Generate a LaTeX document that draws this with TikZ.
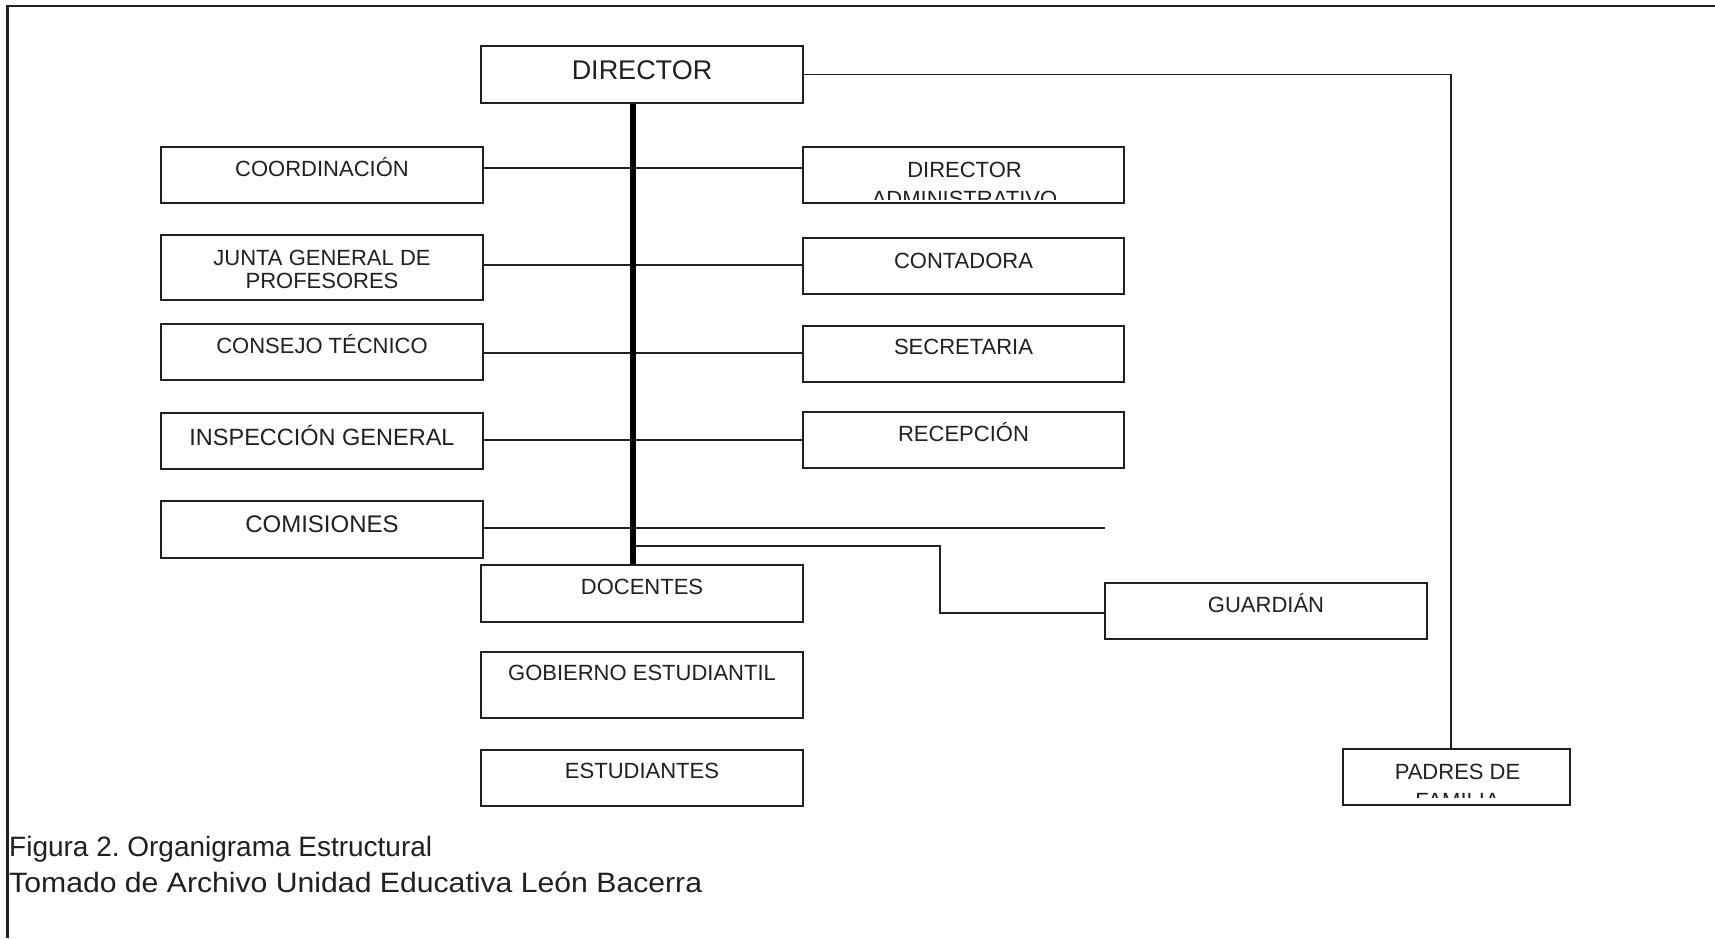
\documentclass[tikz,border=0pt]{standalone}
\usepackage{fontspec}
\usepackage{graphicx}
\setmainfont{Liberation Sans}
\frenchspacing
\definecolor{ink}{RGB}{35,31,32}
\newcommand{\bxt}[4]{\parbox[t][#1pt][t]{#2pt}{\centering\rule{0pt}{#3pt}#4}}
\begin{document}
\begin{tikzpicture}[x=1pt,y=-1pt,
  box/.style={draw=ink, line width=2pt, inner sep=0pt, anchor=north west, text=ink,
              font=\fontsize{22}{23}\selectfont},
  conn/.style={draw=ink, line width=1.6pt},
  spineline/.style={draw=black, line width=5.2pt},
  frameline/.style={draw=ink, line width=2.2pt}]
\useasboundingbox (0,0) rectangle (1715,938);
\fill[white] (0,0) rectangle (1715,938);
% frame
\draw[frameline] (7.5,938) -- (7.5,6) -- (1715,6);

% top
\node[box, font=\fontsize{27}{30}\selectfont] (director) at (480,45) {\bxt{57}{322}{33}{DIRECTOR}};

% left column
\node[box] (coord) at (160,146) {\bxt{56}{322}{29}{COORDINACIÓN}};
\node[box] (junta) at (160,234) {\bxt{65}{322}{30}{JUNTA GENERAL DE\\PROFESORES}};
\node[box] (consejo) at (160,323) {\bxt{56}{322}{29}{CONSEJO TÉCNICO}};
\node[box, font=\fontsize{23.5}{25}\selectfont] (insp) at (160,412) {\bxt{56}{322}{32}{INSPECCIÓN GENERAL}};
\node[box, font=\fontsize{24}{26}\selectfont] (com) at (160,500) {\bxt{57}{322}{31}{COMISIONES}};

% right column
\node[box, minimum width=321pt, minimum height=56pt,
  path picture={
    \clip ([yshift=4pt]path picture bounding box.south west) rectangle (path picture bounding box.north east);
    \node[anchor=north west, inner sep=0pt, text=ink, font=\fontsize{22}{29}\selectfont] (diradmintxt)
      at (path picture bounding box.north west) {\parbox[t]{321pt}{\centering\rule{0pt}{29pt}DIRECTOR\\ADMINISTRATIVO}};
  }] (diradmin) at (802,146) {};
\node[box] (contadora) at (802,237) {\bxt{56}{321}{30}{CONTADORA}};
\node[box] (secretaria) at (802,325) {\bxt{56}{321}{28}{SECRETARIA}};
\node[box] (recepcion) at (802,411) {\bxt{56}{321}{29}{RECEPCIÓN}};

% bottom middle
\node[box] (docentes) at (480,564) {\bxt{57}{322}{29}{DOCENTES}};
\node[box] (gobierno) at (480,651) {\bxt{66}{322}{28}{GOBIERNO ESTUDIANTIL}};
\node[box] (estudiantes) at (480,749) {\bxt{56}{322}{28}{ESTUDIANTES}};

% right bottom
\node[box] (guardian) at (1104,582) {\bxt{56}{322}{29}{GUARDIÁN}};
\node[box, minimum width=227pt, minimum height=56pt,
  path picture={
    \clip ([yshift=8pt]path picture bounding box.south west) rectangle (path picture bounding box.north east);
    \node[anchor=north west, inner sep=0pt, text=ink, font=\fontsize{22}{29}\selectfont] (padrestxt)
      at (path picture bounding box.north west) {\parbox[t]{227pt}{\centering\rule{0pt}{29pt}PADRES DE\\FAMILIA}};
  }] (padres) at (1342,748) {};

% connectors
\coordinate (spx) at (633,0);
\draw[conn] (coord.east |- 0,168) -- (diradmin.west |- 0,168);
\draw[conn] (junta.east |- 0,265) -- (contadora.west |- 0,265);
\draw[conn] (consejo.east |- 0,353) -- (secretaria.west |- 0,353);
\draw[conn] (insp.east |- 0,440) -- (recepcion.west |- 0,440);
\coordinate (comend) at (1105,528);
\draw[conn] (com.east |- comend) -- (comend);
\coordinate (gA) at (633,546);
\coordinate (gB) at (940,546);
\coordinate (gC) at (940,613);
\draw[conn] (gA) -- (gB) -- (gC) -- (guardian.west |- gC);
\coordinate (pA) at (1451,0);
\draw[conn] (director.east) -- (pA |- director.east) -- (pA |- padres.north);
\draw[spineline] (spx |- director.south) -- (spx |- docentes.north);

% caption
\node[anchor=base west, inner sep=0pt, text=ink, font=\fontsize{28}{36}\selectfont] (caption) at (9,856)
  {\parbox[t]{900pt}{\raggedright \resizebox{423pt}{\height}{Figura 2. Organigrama Estructural}\\\resizebox{693pt}{\height}{Tomado de Archivo Unidad Educativa León Bacerra}}};
\end{tikzpicture}
\end{document}
